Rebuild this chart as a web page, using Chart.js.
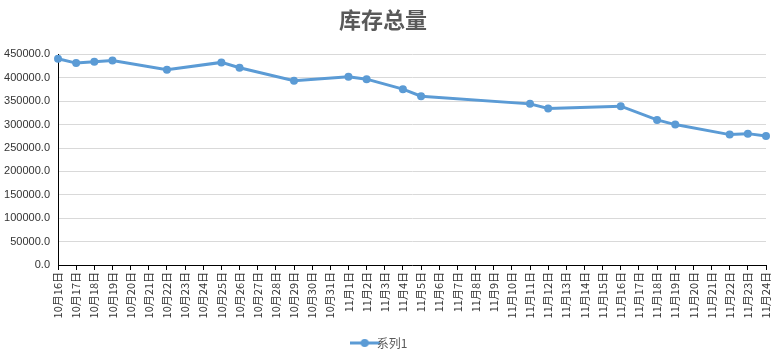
<!DOCTYPE html>
<html>
<head>
<meta charset="utf-8">
<script src="https://cdn.jsdelivr.net/npm/chart.js@4/dist/chart.umd.min.js"></script>
<style>
  html, body { margin: 0; padding: 0; background: #fff; }
  #wrap { width: 784px; height: 351px; }
</style>
</head>
<body>
<div id="wrap"><canvas id="stockChart" width="784" height="351"></canvas></div>
<script>
// x labels: every day from 10/16 to 11/24
const dayLabels = [
  "10月16日", "10月17日", "10月18日", "10月19日", "10月20日", "10月21日", "10月22日", "10月23日",
  "10月24日", "10月25日", "10月26日", "10月27日", "10月28日", "10月29日", "10月30日", "10月31日",
  "11月1日", "11月2日", "11月3日", "11月4日", "11月5日", "11月6日", "11月7日", "11月8日",
  "11月9日", "11月10日", "11月11日", "11月12日", "11月13日", "11月14日", "11月15日", "11月16日",
  "11月17日", "11月18日", "11月19日", "11月20日", "11月21日", "11月22日", "11月23日", "11月24日",
];

// stock totals, null where no record that day
const stockTotals = [
  440800, 431400, 434300, 437100, null, null, 417100, null,
  null, 432900, 421400, null, null, 393600, null, null,
  402100, 397100, null, 375700, 360700, null, null, null,
  null, null, 344300, 334300, null, null, null, 339300,
  null, 310000, 300000, null, null, 278600, 280700, 275700,
];

const seriesName = "系列1";
const chartTitle = "库存总量";
const lineColor = "#5b9bd5";

// legend marker: short line with a dot, like Excel
function legendMarker() {
  const c = document.createElement("canvas");
  c.width = 30;
  c.height = 10;
  const ctx = c.getContext("2d");
  ctx.strokeStyle = lineColor;
  ctx.lineWidth = 3;
  ctx.beginPath();
  ctx.moveTo(0, 5);
  ctx.lineTo(30, 5);
  ctx.stroke();
  ctx.fillStyle = lineColor;
  ctx.beginPath();
  ctx.arc(15, 5, 4, 0, Math.PI * 2);
  ctx.fill();
  return c;
}

const cjkFont = "'Noto Sans CJK SC', 'Noto Sans', sans-serif";

new Chart(document.getElementById("stockChart"), {
  type: "line",
  data: {
    labels: dayLabels,
    datasets: [
      {
        label: seriesName,
        data: stockTotals,
        spanGaps: true,
        borderColor: lineColor,
        backgroundColor: lineColor,
        borderWidth: 3,
        pointRadius: 4,
        pointBackgroundColor: lineColor,
        pointBorderColor: lineColor,
        pointBorderWidth: 0,
        tension: 0,
      },
    ],
  },
  options: {
    responsive: false,
    animation: false,
    layout: { padding: { left: 0, right: 18, top: 0, bottom: -8 } },
    plugins: {
      title: {
        display: true,
        text: chartTitle,
        color: "#595959",
        font: { family: cjkFont, size: 22, weight: "bold" },
        padding: { top: 6, bottom: 22 },
      },
      legend: {
        position: "bottom",
        labels: {
          color: "#595959",
          padding: 10,
          font: { family: cjkFont, size: 12 },
          usePointStyle: true,
          generateLabels: (chart) => [
            {
              text: seriesName,
              pointStyle: legendMarker(),
              fillStyle: lineColor,
              strokeStyle: lineColor,
              lineWidth: 0,
              datasetIndex: 0,
              fontColor: "#595959",
            },
          ],
        },
      },
      tooltip: { enabled: false },
    },
    scales: {
      x: {
        offset: false,
        afterFit: (s) => { s.height = 62; },
        grid: {
          drawOnChartArea: false,
          drawTicks: true,
          tickLength: 5,
          color: "#000",
        },
        border: { color: "#000", width: 1 },
        ticks: {
          autoSkip: false,
          maxRotation: 90,
          minRotation: 90,
          padding: 2,
          color: "#333",
          font: { family: cjkFont, size: 11 },
        },
      },
      y: {
        min: 0,
        max: 450000,
        afterFit: (s) => { s.width = 58; },
        grid: { color: "#d9d9d9", drawTicks: false },
        border: { color: "#000", width: 1 },
        ticks: {
          stepSize: 50000,
          padding: 8,
          color: "#333",
          font: { family: "'Liberation Sans', Arial, sans-serif", size: 11 },
          callback: (v) => Number(v).toFixed(1),
        },
      },
    },
  },
});
</script>
</body>
</html>
